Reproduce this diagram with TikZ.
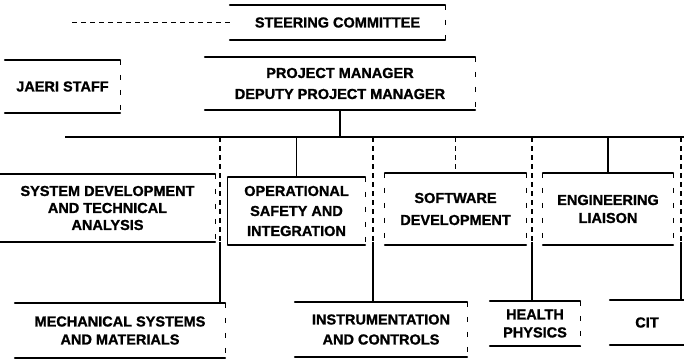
\documentclass[tikz,border=0pt]{standalone}
\usepackage{fontspec}
\setmainfont{Liberation Sans}[BoldFeatures={FakeBold=1.2}]
\begin{document}
\begin{tikzpicture}[x=1pt,y=-1pt,
  lbl/.style={inner sep=0pt, align=center, font=\bfseries\fontsize{14.5}{18}\selectfont},
  edge/.style={line width=1.8pt, line cap=round},
  side/.style={line width=1.1pt, dash pattern=on 5pt off 10pt},
  solidside/.style={line width=1.3pt},
  conn/.style={line width=1.5pt},
  dconn/.style={line width=1.5pt, dash pattern=on 5pt off 4pt}]
\useasboundingbox (0,0) rectangle (684,361);

% top tier
\node[lbl, minimum width=215pt, minimum height=35pt] (sc) at (337.5,22.5) {STEERING COMMITTEE};
\node[lbl, minimum width=115pt, minimum height=53pt] (jaeri) at (62.5,86.5) {JAERI STAFF};
\node[lbl, minimum width=270pt, minimum height=53pt, font=\bfseries\fontsize{14.5}{21}\selectfont] (pm) at (340,83.5) {PROJECT MANAGER\\DEPUTY PROJECT MANAGER};

% second tier
\node[lbl, minimum width=215pt, minimum height=68pt, font=\bfseries\fontsize{14.5}{17}\selectfont] (sd) at (107.5,208) {SYSTEM DEVELOPMENT\\AND TECHNICAL\\ANALYSIS};
\node[lbl, minimum width=137pt, minimum height=68pt, font=\bfseries\fontsize{14.5}{20}\selectfont] (ops) at (296.5,211) {OPERATIONAL\\SAFETY AND\\INTEGRATION};
\node[lbl, minimum width=141pt, minimum height=72pt, font=\bfseries\fontsize{14.5}{22}\selectfont] (sw) at (455.5,209) {SOFTWARE\\DEVELOPMENT};
\node[lbl, minimum width=130pt, minimum height=72pt] (eng) at (608,209) {ENGINEERING\\LIAISON};

% third tier
\node[lbl, minimum width=210pt, minimum height=55pt] (mech) at (120,330.5) {MECHANICAL SYSTEMS\\AND MATERIALS};
\node[lbl, minimum width=172pt, minimum height=55pt, font=\bfseries\fontsize{14.5}{20}\selectfont] (inst) at (381,329.5) {INSTRUMENTATION\\AND CONTROLS};
\node[lbl, minimum width=90pt, minimum height=45pt] (hp) at (535,323.5) {HEALTH\\PHYSICS};
\node[lbl, minimum width=74pt, minimum height=45pt] (cit) at (647,322.5) {CIT};

% box edges
\foreach \n in {sc,jaeri,pm,sd,ops,sw,eng,mech,inst,hp,cit}
  \draw[edge] (\n.north west) -- (\n.north east) (\n.south west) -- (\n.south east);
\foreach \n in {sc,jaeri,pm,sd,ops,sw,eng,mech,inst,hp}
  \draw[side] (\n.north east) -- (\n.south east);
\foreach \n in {sw,eng}
  \draw[side] (\n.north west) -- (\n.south west);
\draw[solidside] (ops.north west) -- (ops.south west);

% connectors
\coordinate (scend) at (70,22.5);
\draw[dconn] (sc.west) -- (scend);

\coordinate (busL) at (65,137);
\coordinate (busR) at (684,137);
\draw[conn] (busL) -- (busR);
\draw[conn] (pm.south) -- (pm.south |- busL);

\draw[conn] (ops.north |- busL) -- (ops.north);
\draw[dconn] (sw.north |- busL) -- (sw.north);
\draw[conn] (eng.north |- busL) -- (eng.north);

\coordinate (m1) at ([xshift=-5pt]mech.north east);
\coordinate (i1) at ([xshift=-8pt]inst.north);
\coordinate (h1) at ([xshift=-3pt]hp.north);
\coordinate (c1) at ([xshift=-3pt]cit.north east);
\foreach \c in {m1,i1,h1,c1} {
  \draw[dconn] (\c |- busL) -- (\c |- sd.south);
  \draw[conn] (\c |- sd.south) -- (\c);
}
\end{tikzpicture}
\end{document}
